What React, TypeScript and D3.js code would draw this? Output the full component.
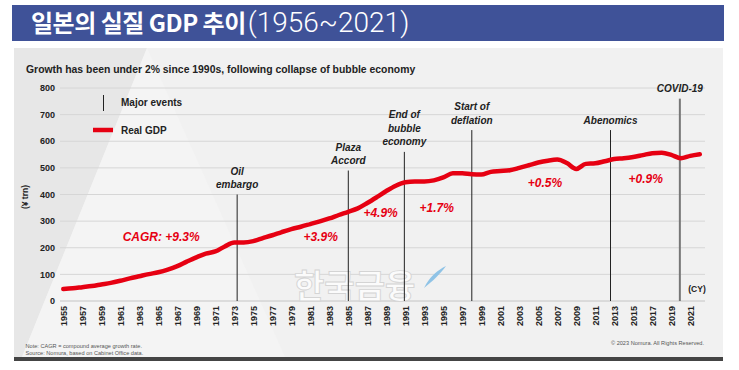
import { useRef, useEffect } from 'react';
import * as d3 from 'd3';

// Japan real GDP (¥ trn)
const years = d3.range(1955, 2023);
const gdp = [
  45, 48, 52, 56, 62, 68, 76, 85, 93, 101,
  108, 118, 131, 148, 164, 178, 186, 205, 220, 220,
  225, 236, 247, 259, 270, 279, 289, 299, 310, 323,
  335, 348, 368, 390, 413, 433, 446, 449, 449, 453,
  464, 480, 480, 476, 475, 485, 488, 491, 500, 510,
  520, 527, 531, 518, 496, 515, 517, 525, 533, 536,
  541, 548, 555, 557, 549, 536, 545, 551,
];
const tickYears = d3.range(1955, 2022, 2);
const yTicks = [0, 100, 200, 300, 400, 500, 600, 700, 800];

const events = [
  { year: 1973.3, top: 400, label: ['Oil', 'embargo'] },
  { year: 1985, top: 490, label: ['Plaza', 'Accord'] },
  { year: 1990.9, top: 560, label: ['End of', 'bubble', 'economy'] },
  { year: 1998, top: 642, label: ['Start of', 'deflation'] },
  { year: 2012.6, top: 642, label: ['Abenomics'] },
  { year: 2019.9, top: 760, label: ['COVID-19'] },
];

const cagr = [
  { year: 1965.3, value: 241, text: 'CAGR: +9.3%' },
  { year: 1982.1, value: 241, text: '+3.9%' },
  { year: 1988.4, value: 329, text: '+4.9%' },
  { year: 1994.3, value: 350, text: '+1.7%' },
  { year: 2005.7, value: 442, text: '+0.5%' },
  { year: 2016.3, value: 457, text: '+0.9%' },
];

const RED = '#e60012';
const FONT = '"Liberation Sans", Arial, Helvetica, sans-serif';

export default function App() {
  const ref = useRef<SVGSVGElement | null>(null);

  useEffect(() => {
    if (!ref.current) return;
    const svg = d3.select(ref.current);
    svg.selectAll('*').remove();

    const x = d3.scaleLinear().domain([1955, 2022]).range([63.3, 699.8]);
    const y = d3.scaleLinear().domain([0, 800]).range([301, 88]);

    // header
    svg.append('rect').attr('x', 12).attr('y', 5).attr('width', 712).attr('height', 36).attr('fill', '#3f5298');
    const title = svg
      .append('text')
      .attr('x', 31)
      .attr('y', 32)
      .attr('fill', '#fff');
    title
      .append('tspan')
      .attr('font-family', '"Noto Sans CJK KR", sans-serif')
      .attr('font-weight', 700)
      .attr('font-size', 24)
      .attr('letter-spacing', -0.5)
      .text('일본의 실질 GDP 추이');
    title
      .append('tspan')
      .attr('font-family', 'Roboto, sans-serif')
      .attr('font-weight', 300)
      .attr('font-size', 28)
      .attr('dx', 2)
      .text('(1956~2021)');

    // panel background
    svg.append('rect').attr('x', 14).attr('y', 48).attr('width', 709).attr('height', 309).attr('fill', '#f1f1f1');
    svg.append('polygon').attr('points', '14,48 147,48 22,357 14,357').attr('fill', '#e7e7e7');
    svg.append('polygon').attr('points', '147,48 22,357 285,357').attr('fill', '#f4f4f4');
    svg.append('rect').attr('x', 14).attr('y', 357).attr('width', 709).attr('height', 4).attr('fill', '#444');

    svg
      .append('text')
      .attr('x', 26)
      .attr('y', 72.5)
      .attr('font-family', FONT)
      .attr('font-weight', 700)
      .attr('font-size', 10.4)
      .attr('fill', '#222')
      .text('Growth has been under 2% since 1990s, following collapse of bubble economy');

    // grid
    svg
      .append('g')
      .selectAll('line')
      .data(yTicks)
      .join('line')
      .attr('x1', 60)
      .attr('x2', 705)
      .attr('y1', d => y(d))
      .attr('y2', d => y(d))
      .attr('stroke', d => (d === 0 ? '#c4c4c4' : '#d6d6d6'))
      .attr('stroke-width', 1);

    svg
      .append('g')
      .selectAll('text')
      .data(yTicks)
      .join('text')
      .attr('x', 55)
      .attr('y', d => y(d) + 3.2)
      .attr('text-anchor', 'end')
      .attr('font-family', FONT)
      .attr('font-weight', 700)
      .attr('font-size', 9)
      .attr('fill', '#222')
      .text(d => d);

    svg
      .append('text')
      .attr('transform', 'translate(28,197) rotate(-90)')
      .attr('text-anchor', 'middle')
      .attr('font-family', FONT)
      .attr('font-weight', 700)
      .attr('font-size', 8.5)
      .attr('fill', '#222')
      .text('(¥ trn)');

    svg
      .append('g')
      .selectAll('text')
      .data(tickYears)
      .join('text')
      .attr('transform', d => `translate(${x(d) + 3.2},306) rotate(-90)`)
      .attr('text-anchor', 'end')
      .attr('font-family', FONT)
      .attr('font-weight', 700)
      .attr('font-size', 9)
      .attr('fill', '#222')
      .text(d => d);

    // watermark
    svg
      .append('text')
      .attr('x', 294)
      .attr('y', 298)
      .attr('font-family', '"Noto Sans CJK KR", sans-serif')
      .attr('font-weight', 700)
      .attr('font-size', 33)
      .attr('fill', '#fbfbfb')
      .attr('stroke', '#d4d4d4')
      .attr('stroke-width', 0.9)
      .text('한국금융');
    svg
      .append('path')
      .attr('d', 'M424,288 C430,276 438,270 446,266 C440,274 434,280 424,288 Z')
      .attr('fill', '#8fc3e6');

    // event lines
    const ev = svg.append('g');
    events.forEach((e, i) => {
      const covid = i === events.length - 1;
      ev.append('line')
        .attr('x1', x(e.year))
        .attr('x2', x(e.year))
        .attr('y1', y(e.top))
        .attr('y2', y(0))
        .attr('stroke', covid ? '#777' : '#222')
        .attr('stroke-width', covid ? 2 : 1);
      const n = e.label.length;
      e.label.forEach((t, j) => {
        ev.append('text')
          .attr('x', x(e.year))
          .attr('y', y(e.top) - 10 - (n - 1 - j) * 13.5 + 3.5)
          .attr('text-anchor', 'middle')
          .attr('font-family', FONT)
          .attr('font-weight', 700)
          .attr('font-style', 'italic')
          .attr('font-size', 10)
          .attr('fill', '#222')
          .text(t);
      });
    });

    // GDP line
    const line = d3
      .line<number>()
      .x((_, i) => x(years[i]))
      .y(d => y(d))
      .curve(d3.curveMonotoneX);
    svg
      .append('path')
      .datum(gdp)
      .attr('d', line)
      .attr('fill', 'none')
      .attr('stroke', RED)
      .attr('stroke-width', 4.5)
      .attr('stroke-linecap', 'round')
      .attr('stroke-linejoin', 'round');

    svg
      .append('g')
      .selectAll('text')
      .data(cagr)
      .join('text')
      .attr('x', d => x(d.year))
      .attr('y', d => y(d.value) + 4)
      .attr('text-anchor', 'middle')
      .attr('font-family', FONT)
      .attr('font-weight', 700)
      .attr('font-style', 'italic')
      .attr('font-size', 12)
      .attr('fill', RED)
      .text(d => d.text);

    // legend
    svg.append('line').attr('x1', 103.5).attr('x2', 103.5).attr('y1', 95).attr('y2', 111).attr('stroke', '#222').attr('stroke-width', 1);
    svg.append('line').attr('x1', 93).attr('x2', 113).attr('y1', 130).attr('y2', 130).attr('stroke', RED).attr('stroke-width', 4.5);
    [['Major events', 102], ['Real GDP', 130]].forEach(([t, ly]) => {
      svg
        .append('text')
        .attr('x', 121)
        .attr('y', (ly as number) + 3.5)
        .attr('font-family', FONT)
        .attr('font-weight', 700)
        .attr('font-size', 10)
        .attr('fill', '#222')
        .text(t as string);
    });

    svg
      .append('text')
      .attr('x', 697)
      .attr('y', 292)
      .attr('text-anchor', 'middle')
      .attr('font-family', FONT)
      .attr('font-weight', 700)
      .attr('font-size', 8.5)
      .attr('fill', '#222')
      .text('(CY)');

    // notes
    const notes = ['Note: CAGR = compound average growth rate.', 'Source: Nomura, based on Cabinet Office data.'];
    notes.forEach((t, i) => {
      svg
        .append('text')
        .attr('x', 25.5)
        .attr('y', 348 + i * 6.5)
        .attr('font-family', FONT)
        .attr('font-size', 5.6)
        .attr('fill', '#555')
        .text(t);
    });
    svg
      .append('text')
      .attr('x', 704)
      .attr('y', 345)
      .attr('text-anchor', 'end')
      .attr('font-family', FONT)
      .attr('font-size', 5.6)
      .attr('fill', '#555')
      .text('© 2023 Nomura. All Rights Reserved.');
  }, []);

  return (
    <svg
      ref={ref}
      width={739}
      height={370}
      style={{ position: 'absolute', left: 0, top: 0, background: '#fff' }}
    />
  );
}
